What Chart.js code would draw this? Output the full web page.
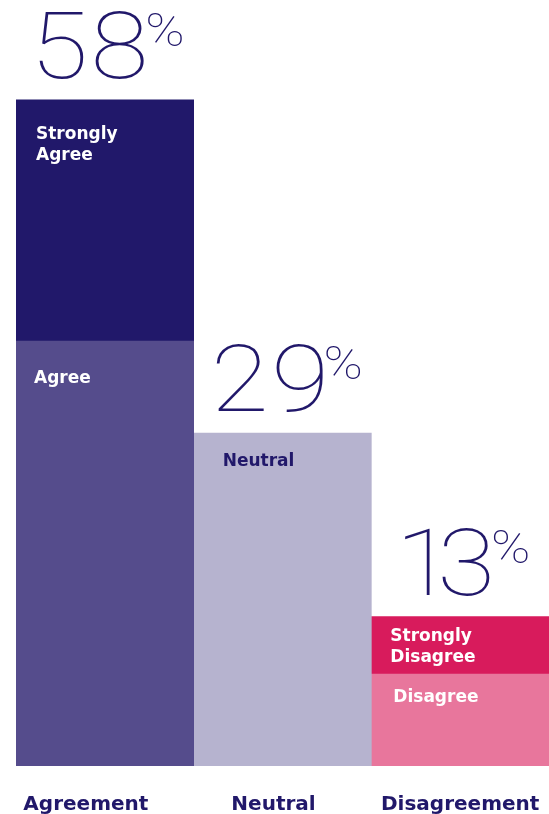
<!DOCTYPE html>
<html>
<head>
<meta charset="utf-8">
<script src="https://cdn.jsdelivr.net/npm/chart.js@4.4.1/dist/chart.umd.min.js"></script>
<style>
  html, body { margin: 0; padding: 0; background: #ffffff; overflow: hidden; }
  canvas { display: block; }
</style>
</head>
<body>
<canvas id="opinionChart" width="549" height="814"></canvas>
<script>
// Survey response shares (%)
const categories = ['Agreement', 'Neutral', 'Disagreement'];
const agree = [37, null, null];
const stronglyAgree = [21, null, null];
const neutral = [null, 29, null];
const disagree = [null, null, 8];
const stronglyDisagree = [null, null, 5];

const navy = '#21186a';
const bigFont = '100 92px Roboto';
const pctFont = '100 46px Roboto';
const stretch = 1.15;

// lays glyphs out by their ink box so thin digits sit tight together
function inkRun(ctx, text, font, gap) {
    ctx.font = font;
    const parts = [];
    let w = 0, asc = 0;
    for (const ch of text) {
        const m = ctx.measureText(ch);
        const ink = (m.actualBoundingBoxLeft + m.actualBoundingBoxRight) * stretch;
        parts.push({ ch, at: w + m.actualBoundingBoxLeft * stretch });
        w += ink + gap;
        asc = Math.max(asc, m.actualBoundingBoxAscent);
    }
    return { parts, width: w - gap, asc };
}

function drawRun(ctx, run, font, x, y) {
    ctx.font = font;
    run.parts.forEach(p => {
        ctx.save();
        ctx.translate(x + p.at, y);
        ctx.scale(stretch, 1);
        ctx.fillText(p.ch, 0, 0);
        ctx.restore();
    });
}

// segment names inside the bars, stack totals above them, category names below
const barLabels = {
    id: 'barLabels',
    afterDatasetsDraw(chart, args, opts) {
        const ctx = chart.ctx;
        const x = chart.scales.x;
        const y = chart.scales.y;
        ctx.save();
        ctx.textAlign = 'left';
        ctx.textBaseline = 'alphabetic';

        chart.data.datasets.forEach((ds, i) => {
            const meta = chart.getDatasetMeta(i);
            meta.data.forEach((bar, j) => {
                if (ds.data[j] == null) return;
                const left = bar.x - bar.width / 2;
                const top = Math.min(bar.y, bar.base);
                ctx.fillStyle = ds.textColor;
                ctx.font = 'bold 17px "DejaVu Sans"';
                ds.label.split('\n').forEach((line, k) => {
                    ctx.fillText(line, left + ds.textPad[0], top + ds.textPad[1] + k * 21);
                });
            });
        });

        categories.forEach((c, j) => {
            const total = chart.data.datasets.reduce((s, ds) => s + (ds.data[j] || 0), 0);
            const cx = x.getPixelForValue(j) + 6;
            const base = y.getPixelForValue(total) - 22;
            const digits = inkRun(ctx, String(total), bigFont, 12);
            const pct = inkRun(ctx, '%', pctFont, 0);
            const start = cx - (digits.width + 3 + pct.width) / 2;
            ctx.fillStyle = navy;
            drawRun(ctx, digits, bigFont, start, base);
            drawRun(ctx, pct, pctFont, start + digits.width + 3, base - digits.asc + 2 + pct.asc);

            // category name under the bar
            ctx.font = 'bold 20px "DejaVu Sans"';
            ctx.textAlign = 'center';
            ctx.fillText(c, x.getPixelForValue(j) + opts.tickShift[j], chart.chartArea.bottom + 44);
            ctx.textAlign = 'left';
        });
        ctx.restore();
    }
};

const ctx = document.getElementById('opinionChart').getContext('2d');
new Chart(ctx, {
    type: 'bar',
    data: {
        labels: categories,
        datasets: [
            { label: 'Agree', data: agree, backgroundColor: '#554c8c', textColor: '#ffffff', textPad: [18, 42] },
            { label: 'Strongly\nAgree', data: stronglyAgree, backgroundColor: navy, textColor: '#ffffff', textPad: [20, 39] },
            { label: 'Neutral', data: neutral, backgroundColor: '#b6b3cf', textColor: navy, textPad: [29, 33] },
            { label: 'Disagree', data: disagree, backgroundColor: '#e8769c', textColor: '#ffffff', textPad: [22, 28] },
            { label: 'Strongly\nDisagree', data: stronglyDisagree, backgroundColor: '#d81b5c', textColor: '#ffffff', textPad: [19, 24] }
        ]
    },
    options: {
        responsive: false,
        animation: false,
        layout: { padding: { left: 16, right: 0, top: 0, bottom: 48 } },
        datasets: {
            bar: { barPercentage: 1, categoryPercentage: 1, borderWidth: 0, skipNull: true }
        },
        scales: {
            x: { stacked: true, display: false },
            y: { stacked: true, display: false, min: 0, max: 66.7 }
        },
        plugins: {
            legend: { display: false },
            tooltip: { enabled: false },
            barLabels: { tickShift: [-19, -9, 0] }
        }
    },
    plugins: [barLabels]
});
</script>
</body>
</html>
